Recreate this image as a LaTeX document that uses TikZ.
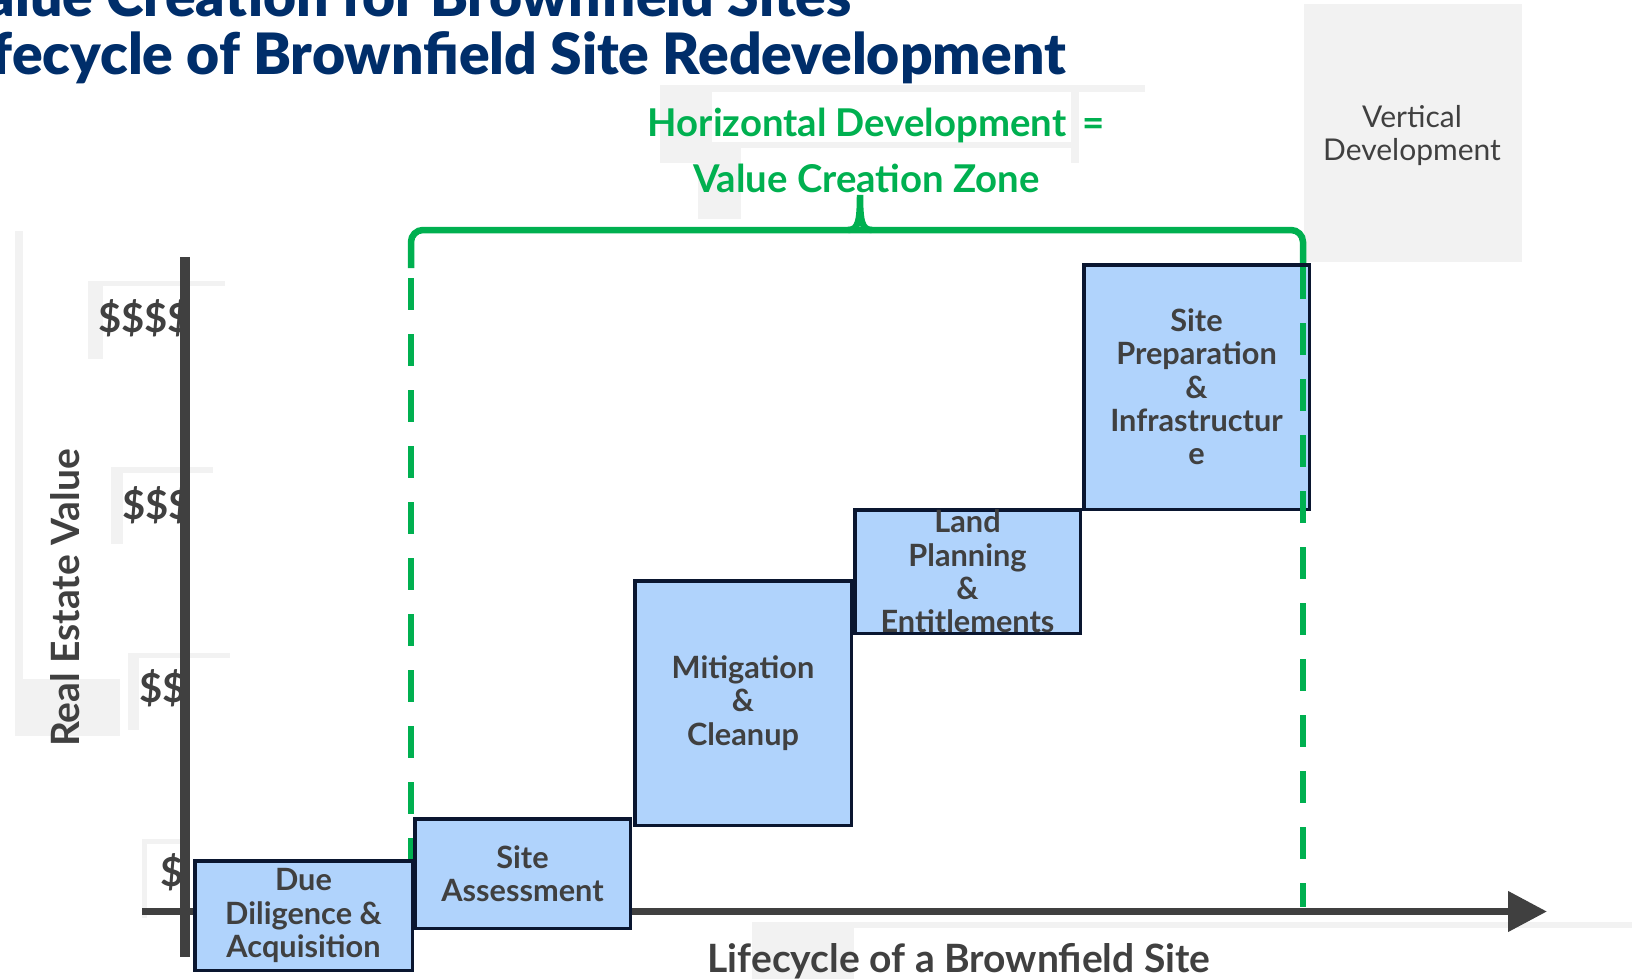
\documentclass[tikz,border=0pt]{standalone}
\usepackage{fontspec}
\setmainfont{Lato}
\newfontfamily\titlefont{Lato Black}
\usepackage{tikz}
\usetikzlibrary{arrows.meta}

\definecolor{titleblue}{RGB}{0,46,106}
\definecolor{zonegreen}{RGB}{0,176,80}
\definecolor{boxblue}{RGB}{176,211,252}
\definecolor{boxedge}{RGB}{10,22,48}
\definecolor{axisgray}{RGB}{64,64,64}
\definecolor{framegray}{RGB}{242,242,242}

\begin{document}
\begin{tikzpicture}[x=1pt,y=-1pt,
  stage node/.style={rectangle,draw=boxedge,line width=3.5pt,fill=boxblue,inner sep=0pt},
  stage text/.style={align=center,text=axisgray,inner sep=0pt,
    font=\fontsize{30.7}{33.3}\selectfont\bfseries},
  dollar node/.style={anchor=east,text=axisgray,inner sep=0pt,
    font=\fontsize{40}{42}\selectfont\bfseries},
  axis label/.style={text=axisgray,inner sep=0pt,font=\fontsize{39}{41}\selectfont\bfseries},
  zone text/.style={text=zonegreen,inner sep=0pt,font=\fontsize{38.3}{40}\selectfont\bfseries},
  title text/.style={anchor=base east,text=titleblue,inner sep=0pt,
    font=\fontsize{57}{59}\selectfont\titlefont},
  zone line/.style={draw=zonegreen,line width=6.5pt},
  axis line/.style={draw=axisgray},
  frame/.style={fill=framegray}]

  \useasboundingbox (0,0) rectangle (1632,979);
  \clip (0,0) rectangle (1632,979);

  % faint frames left behind by the text boxes
  \fill[frame] (15,231) rectangle (23,736);
  \fill[frame] (15,679) rectangle (120,736);
  \fill[frame] (88,281) rectangle (225,286);
  \fill[frame] (88,281) rectangle (103,359);
  \fill[frame] (111,467) rectangle (213,473);
  \fill[frame] (111,467) rectangle (123,544);
  \fill[frame] (128,653) rectangle (230,658);
  \fill[frame] (128,653) rectangle (139,730);
  \fill[frame] (142,839) rectangle (183,844);
  \fill[frame] (142,839) rectangle (147,918);
  \fill[frame] (660,85) rectangle (1145,92);
  \fill[frame] (660,85) rectangle (1079,163);
  \fill[white] (711.5,92) rectangle (1071,142);
  \fill[white] (740.5,148) rectangle (1071,163);
  \fill[frame] (698,148) rectangle (740.5,219);
  \fill[frame] (752,922) rectangle (1632,928);
  \fill[frame] (752,922) rectangle (854,979);
  \fill[frame] (1304,4) rectangle (1522,262);

  \node[title text] (title1) at (852,17) {Value Creation for Brownfield Sites};
  \node[title text] (title2) at (1066,75) {Lifecycle of Brownfield Site Redevelopment};

  \node[dollar node] (d4) at (191,318) {\$\$\$\$};
  \node[dollar node] (d3) at (192,505) {\$\$\$};
  \node[dollar node] (d2) at (186,688) {\$\$};
  \node[dollar node] (d1) at (184,872) {\$};

  \node[axis label,rotate=90] (ylabel) at (65.5,598) {Real Estate Value};
  \node[axis label,anchor=base] (xlabel) at (959,972) {Lifecycle of a Brownfield Site};

  \coordinate (ytop) at (185,257);
  \coordinate (ybottom) at (185,957);
  \coordinate (xstart) at (142,911.5);
  \coordinate (xend) at (1547,911.5);
  \draw[axis line,line width=10pt] (ytop) -- (ybottom);
  \draw[axis line,line width=7.5pt,-{Triangle[length=39pt,width=39pt]}] (xstart) -- (xend);

  \coordinate (zl) at (411,278);
  \coordinate (zlb) at (411,907);
  \coordinate (zr) at (1303,267);
  \coordinate (zrb) at (1303,907);
  \draw[zone line,dash pattern=on 32pt off 24pt] (zl) -- (zlb);
  \draw[zone line,rounded corners=12pt] (411,268) |- (1303,230) -- (1303,266);
  \draw[zone line] (848,230) .. controls (858,230) and (860,222) .. (860,195)
    .. controls (860,222) and (862,230) .. (872,230);

  \node[stage node,minimum width=217.5,minimum height=109.5,
    label={[stage text]center:Due\\Diligence \&\\Acquisition}] (due) at (303.5,915.5) {};
  \node[stage node,minimum width=215.5,minimum height=109.5,
    label={[stage text]center:Site\\Assessment}] (assess) at (522.5,873.5) {};
  \node[stage node,minimum width=216.5,minimum height=244.5,
    label={[stage text]center:Mitigation\\\&\\Cleanup}] (mitig) at (743,703) {};
  \node[stage node,minimum width=225.5,minimum height=123.5,
    label={[stage text]center:Land\\Planning\\\&\\Entitlements}] (land) at (967.5,571.5) {};
  \node[stage node,minimum width=225.5,minimum height=244.5,
    label={[stage text]center:Site\\Preparation\\\&\\Infrastructur\\e}] (prep) at (1196.5,387) {};

  \draw[zone line,dash pattern=on 32pt off 24pt] (zr) -- (zrb);

  \node[zone text,anchor=base] (hdev) at (876,136) {Horizontal Development\hspace{16pt}=};
  \node[zone text,anchor=base] (vcz) at (866.5,192) {Value Creation Zone};

  \node[align=center,text=axisgray,inner sep=0pt,
    font=\fontsize{30}{33}\selectfont] (vdev) at (1412,136) {Vertical\\Development};

\end{tikzpicture}
\end{document}
